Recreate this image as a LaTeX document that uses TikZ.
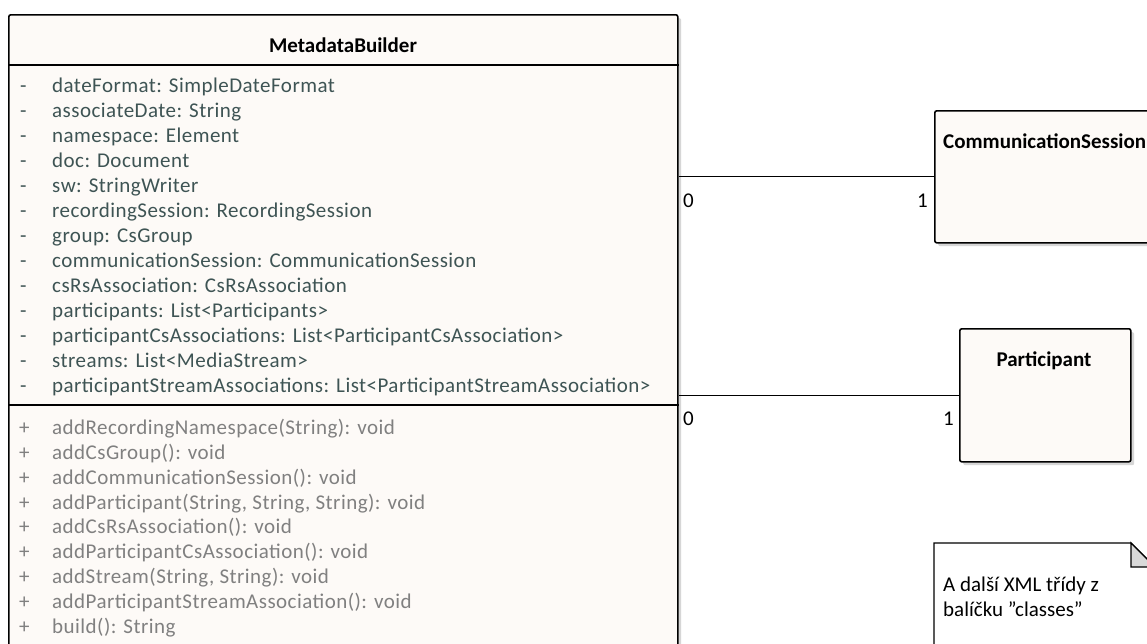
\documentclass[tikz,border=0pt]{standalone}
\usepackage{fontspec}
\setmainfont{Carlito}
\newfontfamily\spacedfont[LetterSpace=2.2]{Carlito}
\definecolor{boxfill}{HTML}{FDFAF7}
\definecolor{attrc}{HTML}{3E5454}
\definecolor{methc}{HTML}{808080}
\definecolor{shadowc}{HTML}{D6D6D6}
\definecolor{foldc}{HTML}{D9D9D9}
\newcommand{\umlfont}{\fontsize{21}{25}\selectfont}
\tikzset{
  cls/.style={draw=black, line width=1.6pt, fill=boxfill, rounded corners=2pt, inner sep=0pt, anchor=north west},
  shad/.style={fill=shadowc, draw=none, rounded corners=2pt, inner sep=0pt, anchor=north west},
  sep/.style={draw=black, line width=1.6pt},
  conn/.style={draw=black, line width=1.3pt},
  attr/.style={text=attrc, anchor=mid west, inner sep=0pt, font=\spacedfont\umlfont},
  meth/.style={text=methc, anchor=mid west, inner sep=0pt, font=\spacedfont\umlfont},
  title/.style={font=\umlfont\bfseries, inner sep=0pt},
  mult/.style={font=\umlfont, inner sep=0pt, anchor=mid west},
  notetext/.style={font=\umlfont, inner sep=0pt, anchor=mid west}
}
\begin{document}
\begin{tikzpicture}[x=1pt,y=-1pt]
\useasboundingbox[fill=white] (0,0) rectangle (1147,643);
\clip (0,0) rectangle (1147,643);
% shadows
\node[shad, minimum width=669pt, minimum height=660pt] at (12,18) {};
\node[shad, minimum width=260pt, minimum height=132pt] at (938,114) {};
\node[shad, minimum width=171pt, minimum height=133pt] at (963,332) {};
% main class
\node[cls, minimum width=669pt, minimum height=660pt] (mb) at (8,14) {};
\node[title] (mbt) at (343,45) {MetadataBuilder};
\draw[sep] (mb.west |- 0,65) -- (mb.east |- 0,65);
\draw[sep] (mb.west |- 0,405) -- (mb.east |- 0,405);
\foreach \t [count=\i] in {
  {dateFormat: SimpleDateFormat},
  {associateDate: String},
  {namespace: Element},
  {doc: Document},
  {sw: StringWriter},
  {recordingSession: RecordingSession},
  {group: CsGroup},
  {communicationSession: CommunicationSession},
  {csRsAssociation: CsRsAssociation},
  {participants: List<Participants>},
  {participantCsAssociations: List<ParticipantCsAssociation>},
  {streams: List<MediaStream>},
  {participantStreamAssociations: List<ParticipantStreamAssociation>}}{
  \node[attr] (av\i) at (20,{90+25*(\i-1)}) {-};
  \node[attr] (a\i) at (52,{90+25*(\i-1)}) {\t};
}
\foreach \t [count=\i] in {
  {addRecordingNamespace(String): void},
  {addCsGroup(): void},
  {addCommunicationSession(): void},
  {addParticipant(String, String, String): void},
  {addCsRsAssociation(): void},
  {addParticipantCsAssociation(): void},
  {addStream(String, String): void},
  {addParticipantStreamAssociation(): void},
  {build(): String}}{
  \node[meth] (mv\i) at (19,{432+24.9*(\i-1)}) {+};
  \node[meth] (m\i) at (52,{432+24.9*(\i-1)}) {\t};
}
% CommunicationSession
\node[cls, minimum width=260pt, minimum height=132pt] (cs) at (934,110) {};
\node[title, anchor=mid west] (cst) at (943,146) {CommunicationSession};
% Participant
\node[cls, minimum width=171pt, minimum height=133pt] (pa) at (959,328) {};
\node[title] (pat) at (1044,361) {Participant};
% connectors
\draw[conn] (cs.west -| mb.east) -- (cs.west);
\draw[conn] (pa.west -| mb.east) -- (pa.west);
\node[mult] (m0a) at (683,205) {0};
\node[mult] (m1a) at (917,205) {1};
\node[mult] (m0b) at (683,423) {0};
\node[mult] (m1b) at (943,423) {1};
% note
\draw[line width=1.3pt, fill=white] (934,660) -- (934,543) -- (1131,543) -- (1160,572) -- (1160,660);
\draw[line width=1.3pt, fill=foldc] (1131,543) -- (1131,567) -- (1155,567) -- cycle;
\node[notetext] (n1) at (943,589) {A další XML třídy z};
\node[notetext] (n2) at (943,614) {balíčku \symbol{34}classes\symbol{34}};
\end{tikzpicture}
\end{document}
